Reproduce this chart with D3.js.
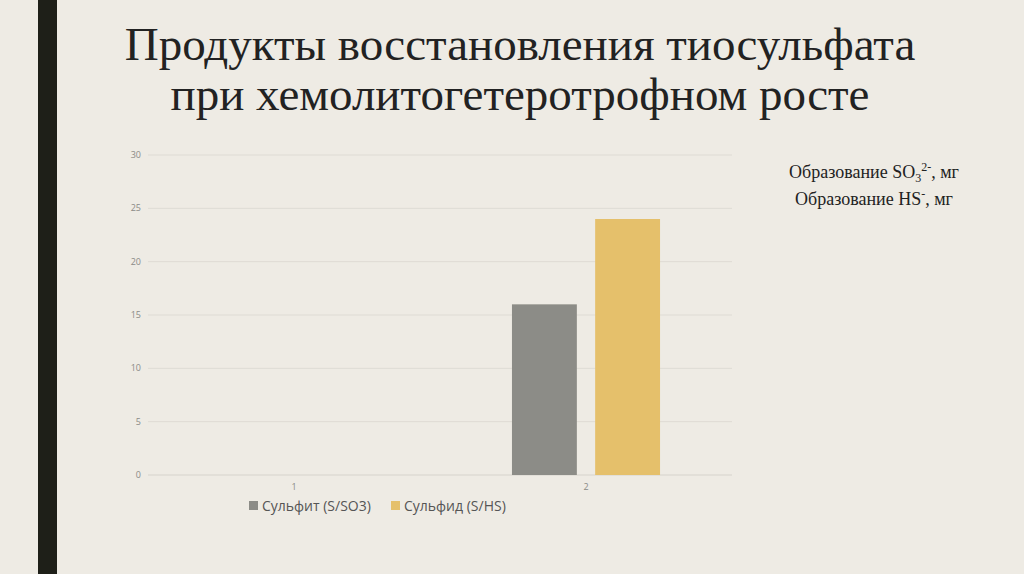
<!DOCTYPE html><html><head><meta charset="utf-8"><script src="https://cdn.jsdelivr.net/npm/d3@7"></script>
<style>body{margin:0;background:#eeebe4}</style></head><body><svg id="c" width="1024" height="574"></svg><script>
const categories=["1","2"];
const seriesNames=["Сульфит (S/SO3)","Сульфид (S/HS)"];
const sulfite=[null,16];
const sulfide=[null,24];
const yTicks=[0,5,10,15,20,25,30];
const colors=["#8c8c87","#e5c06b"];
const svg=d3.select("#c");
svg.append("rect").attr("width",1024).attr("height",574).attr("fill","#eeebe4");
svg.append("rect").attr("x",38).attr("y",0).attr("width",19).attr("height",574).attr("fill","#1e1f18");
const t=svg.append("text").attr("text-anchor","middle").attr("font-family","Liberation Serif").attr("font-size",47).attr("fill","#222");
t.append("tspan").attr("x",520).attr("y",60).text("Продукты восстановления тиосульфата");
t.append("tspan").attr("x",520).attr("y",110).text("при хемолитогетеротрофном росте");
const n=svg.append("text").attr("text-anchor","middle").attr("font-family","Liberation Serif").attr("font-size",18).attr("fill","#222");
const l1=n.append("tspan").attr("x",874).attr("y",178);
l1.append("tspan").text("Образование SO");l1.append("tspan").attr("font-size",12).attr("dy",4).text("3");l1.append("tspan").attr("font-size",12).attr("dy",-11).text("2-");l1.append("tspan").attr("dy",7).text(", мг");
const l2=n.append("tspan").attr("x",874).attr("y",205);
l2.append("tspan").text("Образование HS");l2.append("tspan").attr("font-size",12).attr("dy",-7).text("-");l2.append("tspan").attr("dy",7).text(", мг");
const x=d3.scaleBand().domain(categories).range([148,732]);
const y=d3.scaleLinear().domain([0,30]).range([475,155]);
const g=svg.append("g");
yTicks.forEach(v=>{g.append("line").attr("x1",148).attr("x2",732).attr("y1",y(v)).attr("y2",y(v)).attr("stroke",v===0?"#d6d3cc":"#dedbd4").attr("stroke-width",1);
g.append("text").attr("x",141).attr("y",y(v)+3).attr("text-anchor","end").attr("font-family","Open Sans").attr("font-size",9).attr("fill","#8a8a86").text(v);});
categories.forEach(c=>g.append("text").attr("x",x(c)+x.bandwidth()/2).attr("y",490).attr("text-anchor","middle").attr("font-family","Open Sans").attr("font-size",9).attr("fill","#8a8a86").text(c));
const xs=d3.scaleBand().domain([0,1]).range([0,x.bandwidth()]).paddingInner(0.22).paddingOuter(0.865);
[sulfite,sulfide].forEach((s,i)=>s.forEach((v,j)=>{if(v==null)return;
g.append("rect").attr("x",x(categories[j])+xs(i)).attr("width",xs.bandwidth()).attr("y",y(v)).attr("height",y(0)-y(v)).attr("fill",colors[i]);}));
const leg=[[249,"#8c8c87",0],[391,"#e5c06b",1]];
leg.forEach(([lx,c,i])=>{svg.append("rect").attr("x",lx).attr("y",501).attr("width",9).attr("height",9).attr("fill",c);
svg.append("text").attr("x",lx+13).attr("y",511).attr("font-family","Open Sans").attr("font-size",14).attr("fill","#555").text(seriesNames[i]);});
</script></body></html>
